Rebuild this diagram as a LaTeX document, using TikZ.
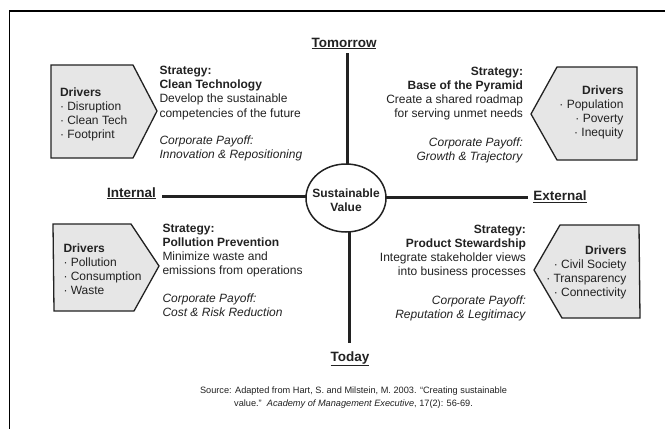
\documentclass[tikz,border=0pt]{standalone}
\usepackage{fontspec}
\setmainfont{Liberation Sans}
\usetikzlibrary{shapes.geometric}
\definecolor{ink}{HTML}{222222}
\definecolor{boxgray}{HTML}{E6E6E6}
\newcommand\Tl[2]{\begin{tabular}[t]{@{}#1@{}}#2\end{tabular}}
\tikzset{
  every node/.style={inner sep=0pt, outer sep=0pt, text=ink},
  body/.style={font=\fontsize{12}{14.2}\selectfont},
  axislbl/.style={font=\bfseries\fontsize{13.5}{16}\selectfont},
  axisline/.style={line width=3pt, draw=ink},
  drvbox/.style={draw=ink, line width=1.3pt, fill=boxgray, line join=miter},
  frameline/.style={line width=1.5pt, draw=black},
}
\begin{document}
\begin{tikzpicture}[x=1pt, y=-1pt]
\useasboundingbox (0,0) rectangle (665,429);
\fill[white] (0,0) rectangle (665,429);
% frame
\draw[frameline] (665,11) -- (9.5,11) -- (9.5,429);

% axis labels
\node[axislbl, anchor=base] (tomorrow) at (344,47) {\underline{Tomorrow}};
\node[axislbl, anchor=base] (today) at (350,361) {\underline{Today}};
\node[axislbl, anchor=base] (internal) at (131.5,197) {\underline{Internal}};
\node[axislbl, anchor=base] (external) at (560,200.5) {\underline{External}};

% centre
\node[draw=ink, line width=1.5pt, ellipse, minimum width=80pt, minimum height=68pt] (sv) at (346,198) {};
\node[font=\bfseries\fontsize{12}{14}\selectfont, align=center] (svtext) at (346,200) {Sustainable\\Value};

% axes
\coordinate (topend) at (347,53);
\coordinate (botend) at (349,343);
\coordinate (leftend) at (162,196);
\coordinate (rightend) at (528,197);
\draw[axisline] (topend) -- (topend |- sv.north);
\draw[axisline] (botend |- sv.south) -- (botend);
\draw[axisline] (leftend) -- (sv.west |- leftend);
\draw[axisline] (sv.east |- rightend) -- (rightend);

% driver boxes
\draw[drvbox] (51,65) -- (133,65) -- (157,111) -- (133,158) -- (51,158) -- cycle;
\draw[drvbox] (531,114) -- (557,67) -- (637,67) -- (637,160) -- (557,160) -- cycle;
\draw[drvbox] (53,224) -- (131,224) -- (159,266) -- (134,311) -- (54,311) -- cycle;
\draw[drvbox] (534,270) -- (560,225) -- (639,225) -- (640,318) -- (562,318) -- cycle;

% driver texts
\node[body, anchor=base west] (tld) at (60,96) {\Tl{l}{\textbf{Drivers}\\· Disruption\\· Clean Tech\\· Footprint}};
\node[body, anchor=base east] (trd) at (623.5,94) {\Tl{r}{\textbf{Drivers}\\· Population\\· Poverty\\· Inequity}};
\node[body, anchor=base west] (bld) at (63.5,252) {\Tl{l}{\textbf{Drivers}\\· Pollution\\· Consumption\\· Waste}};
\node[body, anchor=base east] (brd) at (626.5,254) {\Tl{r}{\textbf{Drivers}\\· Civil Society\\· Transparency\\· Connectivity}};

% strategy texts
\node[body, anchor=base west] (tls) at (159.5,74.5) {\Tl{l}{\textbf{Strategy:}\\\textbf{Clean Technology}\\Develop the sustainable\\competencies of the future}};
\node[body, anchor=base west] (tlp) at (159.5,144) {\Tl{l}{\textit{Corporate Payoff:}\\\textit{Innovation \& Repositioning}}};

\node[body, anchor=base east] (trs) at (523,75) {\Tl{r}{\textbf{Strategy:}\\\textbf{Base of the Pyramid}\\Create a shared roadmap\\for serving unmet needs}};
\node[body, anchor=base east] (trp) at (523,146) {\Tl{r}{\textit{Corporate Payoff:}\\\textit{Growth \& Trajectory}}};

\node[body, anchor=base west] (bls) at (162.5,232) {\Tl{l}{\textbf{Strategy:}\\\textbf{Pollution Prevention}\\Minimize waste and\\emissions from operations}};
\node[body, anchor=base west] (blp) at (162.5,302) {\Tl{l}{\textit{Corporate Payoff:}\\\textit{Cost \& Risk Reduction}}};

\node[body, anchor=base east] (brs) at (526,233) {\Tl{r}{\textbf{Strategy:}\\\textbf{Product Stewardship}\\Integrate stakeholder views\\into business processes}};
\node[body, anchor=base east] (brp) at (526,304) {\Tl{r}{\textit{Corporate Payoff:}\\\textit{Reputation \& Legitimacy}}};

% source
\node[font=\fontsize{9.2}{13}\selectfont, anchor=base] (source) at (353.5,393.5) {\Tl{c}{Source: Adapted from Hart, S. and Milstein, M. 2003. “Creating sustainable\\value.”\ \ \textit{Academy of Management Executive}, 17(2): 56-69.}};
\end{tikzpicture}
\end{document}
